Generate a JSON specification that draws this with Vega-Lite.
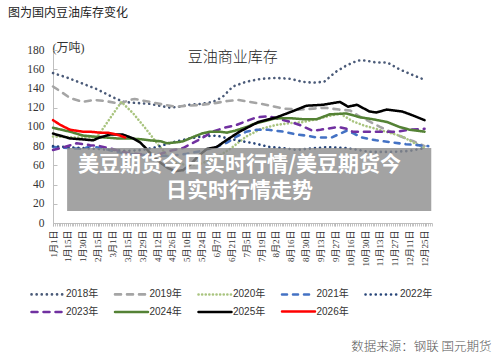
{
"$schema":"https://vega.github.io/schema/vega-lite/v6.json",
"width":379,"height":173,
"autosize":{"type":"none"},
"padding":{"left":53,"top":50,"right":68,"bottom":136},
"background":"white",
"config":{"view":{"stroke":null},"font":"'Liberation Sans','Noto Sans CJK SC',sans-serif"},
"title":{"text":"图为国内豆油库存变化","anchor":"start","frame":"group","dx":-45,"offset":16,"baseline":"middle","font":"'Noto Sans CJK SC'","fontSize":12,"fontWeight":"normal","color":"#222"},
"resolve":{"axis":{"x":"independent","y":"independent"}},
"layer":[
{"data":{"values":[
{"s":"2018年","x":0,"v":156},{"s":"2018年","x":2,"v":151},{"s":"2018年","x":4,"v":145},{"s":"2018年","x":6,"v":139},{"s":"2018年","x":8,"v":131},{"s":"2018年","x":9.5,"v":126},{"s":"2018年","x":11,"v":125},{"s":"2018年","x":13,"v":124},{"s":"2018年","x":15.7,"v":120},{"s":"2018年","x":17,"v":121},{"s":"2018年","x":18.4,"v":123},{"s":"2018年","x":20,"v":124},{"s":"2018年","x":21.5,"v":126},{"s":"2018年","x":22.8,"v":131},{"s":"2018年","x":24.2,"v":142},{"s":"2018年","x":26,"v":147},{"s":"2018年","x":28,"v":150},{"s":"2018年","x":30,"v":151},{"s":"2018年","x":32,"v":150},{"s":"2018年","x":33.5,"v":147},{"s":"2018年","x":35,"v":146},{"s":"2018年","x":36.5,"v":147},{"s":"2018年","x":38,"v":157},{"s":"2018年","x":39.5,"v":164},{"s":"2018年","x":41,"v":169},{"s":"2018年","x":42,"v":169},{"s":"2018年","x":43.5,"v":167},{"s":"2018年","x":45,"v":167},{"s":"2018年","x":46.6,"v":160},{"s":"2018年","x":48.4,"v":154},{"s":"2018年","x":50,"v":149},
{"s":"2019年","x":0,"v":142},{"s":"2019年","x":1,"v":137},{"s":"2019年","x":2.3,"v":130},{"s":"2019年","x":4,"v":126},{"s":"2019年","x":5.5,"v":128},{"s":"2019年","x":7,"v":127},{"s":"2019年","x":9,"v":124},{"s":"2019年","x":10.3,"v":128},{"s":"2019年","x":11,"v":129},{"s":"2019年","x":13,"v":126},{"s":"2019年","x":15,"v":123},{"s":"2019年","x":16.5,"v":121},{"s":"2019年","x":18,"v":122},{"s":"2019年","x":20,"v":123},{"s":"2019年","x":22,"v":125},{"s":"2019年","x":23.5,"v":127},{"s":"2019年","x":25,"v":128},{"s":"2019年","x":26.5,"v":126},{"s":"2019年","x":28,"v":124},{"s":"2019年","x":29.2,"v":122},{"s":"2019年","x":31,"v":119},{"s":"2019年","x":33,"v":118},{"s":"2019年","x":35,"v":119},{"s":"2019年","x":36.5,"v":120},{"s":"2019年","x":38.5,"v":118},{"s":"2019年","x":40,"v":117},{"s":"2019年","x":41,"v":112},{"s":"2019年","x":42.5,"v":106},{"s":"2019年","x":44,"v":100},{"s":"2019年","x":46.5,"v":91},{"s":"2019年","x":48.5,"v":85},{"s":"2019年","x":50,"v":80},
{"s":"2020年","x":0,"v":90},{"s":"2020年","x":3,"v":89},{"s":"2020年","x":5.9,"v":89},{"s":"2020年","x":9.2,"v":126},{"s":"2020年","x":10.8,"v":114},{"s":"2020年","x":12.6,"v":97},{"s":"2020年","x":14,"v":83},{"s":"2020年","x":15.3,"v":71},{"s":"2020年","x":16.5,"v":63},{"s":"2020年","x":18,"v":60},{"s":"2020年","x":20,"v":62},{"s":"2020年","x":22,"v":68},{"s":"2020年","x":24,"v":78},{"s":"2020年","x":26,"v":90},{"s":"2020年","x":28,"v":98},{"s":"2020年","x":30,"v":102},{"s":"2020年","x":32,"v":104},{"s":"2020年","x":33.6,"v":105},{"s":"2020年","x":35.5,"v":108},{"s":"2020年","x":37,"v":111},{"s":"2020年","x":38.6,"v":114},{"s":"2020年","x":40.3,"v":106},{"s":"2020年","x":42,"v":101},{"s":"2020年","x":43,"v":99},{"s":"2020年","x":45.7,"v":93},{"s":"2020年","x":47,"v":90},{"s":"2020年","x":48.4,"v":84},{"s":"2020年","x":50,"v":78},
{"s":"2021年","x":0,"v":79},{"s":"2021年","x":2,"v":78},{"s":"2021年","x":4,"v":77},{"s":"2021年","x":5,"v":80},{"s":"2021年","x":6.5,"v":78},{"s":"2021年","x":8.6,"v":74},{"s":"2021年","x":10,"v":72},{"s":"2021年","x":12,"v":71},{"s":"2021年","x":14,"v":70},{"s":"2021年","x":16,"v":70},{"s":"2021年","x":18,"v":72},{"s":"2021年","x":20,"v":75},{"s":"2021年","x":22,"v":79},{"s":"2021年","x":23.5,"v":84},{"s":"2021年","x":24.7,"v":90},{"s":"2021年","x":26,"v":95},{"s":"2021年","x":27.4,"v":97},{"s":"2021年","x":29,"v":97},{"s":"2021年","x":31,"v":95},{"s":"2021年","x":32.8,"v":92},{"s":"2021年","x":34,"v":91},{"s":"2021年","x":35.5,"v":89},{"s":"2021年","x":37.5,"v":89},{"s":"2021年","x":39.5,"v":96},{"s":"2021年","x":40.5,"v":93},{"s":"2021年","x":41.5,"v":89},{"s":"2021年","x":43.5,"v":86},{"s":"2021年","x":45.5,"v":84},{"s":"2021年","x":47.5,"v":82},{"s":"2021年","x":49,"v":81},{"s":"2021年","x":50.5,"v":80},
{"s":"2022年","x":0,"v":80},{"s":"2022年","x":2,"v":79},{"s":"2022年","x":4,"v":78},{"s":"2022年","x":6,"v":77},{"s":"2022年","x":8,"v":76},{"s":"2022年","x":10,"v":75},{"s":"2022年","x":12,"v":76},{"s":"2022年","x":14,"v":79},{"s":"2022年","x":16.1,"v":84},{"s":"2022年","x":18.4,"v":88},{"s":"2022年","x":20,"v":90},{"s":"2022年","x":22,"v":91},{"s":"2022年","x":23.5,"v":88},{"s":"2022年","x":25.5,"v":85},{"s":"2022年","x":27,"v":83},{"s":"2022年","x":29.2,"v":79},{"s":"2022年","x":31,"v":78},{"s":"2022年","x":32.8,"v":76},{"s":"2022年","x":34,"v":77},{"s":"2022年","x":36.8,"v":79},{"s":"2022年","x":39.5,"v":78},{"s":"2022年","x":42.6,"v":74},{"s":"2022年","x":45.7,"v":74},{"s":"2022年","x":48,"v":75},{"s":"2022年","x":50,"v":78},
{"s":"2023年","x":0,"v":76},{"s":"2023年","x":1.5,"v":79},{"s":"2023年","x":3.2,"v":83},{"s":"2023年","x":5,"v":81},{"s":"2023年","x":6.3,"v":80},{"s":"2023年","x":8,"v":77},{"s":"2023年","x":9.4,"v":74},{"s":"2023年","x":11,"v":72},{"s":"2023年","x":13,"v":71},{"s":"2023年","x":14.5,"v":72},{"s":"2023年","x":15.7,"v":75},{"s":"2023年","x":17.5,"v":78},{"s":"2023年","x":19.5,"v":86},{"s":"2023年","x":21.5,"v":95},{"s":"2023年","x":23,"v":99},{"s":"2023年","x":24.7,"v":102},{"s":"2023年","x":26,"v":106},{"s":"2023年","x":27.4,"v":110},{"s":"2023年","x":29,"v":111},{"s":"2023年","x":30.5,"v":108},{"s":"2023年","x":32,"v":105},{"s":"2023年","x":33.2,"v":102},{"s":"2023年","x":34.9,"v":96},{"s":"2023年","x":36,"v":97},{"s":"2023年","x":38.4,"v":100},{"s":"2023年","x":39.5,"v":98},{"s":"2023年","x":40.3,"v":95},{"s":"2023年","x":43,"v":95},{"s":"2023年","x":46.2,"v":95},{"s":"2023年","x":48,"v":97},{"s":"2023年","x":50,"v":98},
{"s":"2024年","x":0,"v":99},{"s":"2024年","x":2.3,"v":95},{"s":"2024年","x":4,"v":91},{"s":"2024年","x":5.4,"v":90},{"s":"2024年","x":7,"v":89},{"s":"2024年","x":8.6,"v":88},{"s":"2024年","x":10.3,"v":88},{"s":"2024年","x":12,"v":87},{"s":"2024年","x":13,"v":86},{"s":"2024年","x":14.5,"v":85},{"s":"2024年","x":15.3,"v":83},{"s":"2024年","x":16.7,"v":84},{"s":"2024年","x":17.5,"v":85},{"s":"2024年","x":18.4,"v":88},{"s":"2024年","x":20,"v":93},{"s":"2024年","x":21.1,"v":95},{"s":"2024年","x":22.4,"v":95},{"s":"2024年","x":23.4,"v":94},{"s":"2024年","x":24.5,"v":96},{"s":"2024年","x":26.1,"v":100},{"s":"2024年","x":27,"v":103},{"s":"2024年","x":28.5,"v":106},{"s":"2024年","x":30,"v":109},{"s":"2024年","x":32,"v":109},{"s":"2024年","x":33.6,"v":108},{"s":"2024年","x":35.5,"v":108},{"s":"2024年","x":37.2,"v":113},{"s":"2024年","x":39.5,"v":114},{"s":"2024年","x":41.3,"v":110},{"s":"2024年","x":43,"v":108},{"s":"2024年","x":45,"v":105},{"s":"2024年","x":46.6,"v":100},{"s":"2024年","x":48,"v":97},{"s":"2024年","x":50,"v":95},
{"s":"2025年","x":0,"v":93},{"s":"2025年","x":2.3,"v":88},{"s":"2025年","x":4,"v":87},{"s":"2025年","x":5.4,"v":86},{"s":"2025年","x":6.3,"v":89},{"s":"2025年","x":7.7,"v":92},{"s":"2025年","x":9.4,"v":92},{"s":"2025年","x":10.8,"v":88},{"s":"2025年","x":11.7,"v":84},{"s":"2025年","x":12.6,"v":77},{"s":"2025年","x":13.4,"v":70},{"s":"2025年","x":14.4,"v":63},{"s":"2025年","x":15.5,"v":57},{"s":"2025年","x":16.5,"v":54},{"s":"2025年","x":17.5,"v":55},{"s":"2025年","x":18.5,"v":61},{"s":"2025年","x":19.6,"v":70},{"s":"2025年","x":20.7,"v":77},{"s":"2025年","x":22,"v":79},{"s":"2025年","x":23.5,"v":87},{"s":"2025年","x":25.1,"v":95},{"s":"2025年","x":27.6,"v":105},{"s":"2025年","x":30.1,"v":110},{"s":"2025年","x":32.5,"v":117},{"s":"2025年","x":34.1,"v":122},{"s":"2025年","x":36.3,"v":123},{"s":"2025年","x":38.6,"v":126},{"s":"2025年","x":39.7,"v":121},{"s":"2025年","x":40.9,"v":123},{"s":"2025年","x":42.6,"v":116},{"s":"2025年","x":43.5,"v":115},{"s":"2025年","x":44.9,"v":118},{"s":"2025年","x":47,"v":116},{"s":"2025年","x":48.4,"v":112},{"s":"2025年","x":50,"v":107},
{"s":"2026年","x":0,"v":107},{"s":"2026年","x":1,"v":102},{"s":"2026年","x":2.3,"v":97},{"s":"2026年","x":4,"v":95},{"s":"2026年","x":5,"v":95},{"s":"2026年","x":6.3,"v":94},{"s":"2026年","x":7.3,"v":94},{"s":"2026年","x":8,"v":93},{"s":"2026年","x":9,"v":91},{"s":"2026年","x":9.7,"v":89}
]},
"mark":{"type":"line","strokeCap":"round","strokeJoin":"round"},
"encoding":{
"x":{"field":"x","type":"quantitative","scale":{"domain":[0,51],"nice":false,"zero":false},
"axis":{"orient":"bottom","values":[0,2,4,6,8,10,12,14,16,18,20,22,24,26,28,30,32,34,36,38,40,42,44,46,48,50],
"labelExpr":"['1月1日','1月15日','1月30日','2月15日','3月1日','3月15日','3月29日','4月12日','4月26日','5月10日','5月24日','6月7日','6月21日','7月5日','7月19日','8月2日','8月16日','8月30日','9月13日','9月27日','10月16日','10月30日','11月13日','11月27日','12月11日','12月25日'][round(datum.value / 2)]",
"labelAngle":-90,"labelFont":"'Liberation Serif','Noto Sans CJK SC',serif","labelFontSize":9,"labelColor":"#333","labelPadding":4,"labelOverlap":false,"labelFlush":false,"labelBound":false,
"tickSize":3,"tickColor":"#b5b5b5","tickWidth":0.8,"domainColor":"#bfbfbf","grid":false,"title":null}},
"y":{"field":"v","type":"quantitative","scale":{"domain":[0,180],"nice":false},
"axis":{"orient":"left","tickCount":9,"labelOverlap":false,"labelFlush":false,"title":"(万吨)","titleAngle":0,"titleAlign":"left","titleBaseline":"middle","titleX":-1,"titleY":-3,"titleFont":"'Liberation Serif','Noto Sans CJK SC',serif","titleFontSize":12,"titleFontWeight":"normal","titleColor":"#333",
"labelFont":"Liberation Serif","labelFontSize":11.5,"labelColor":"#333","labelPadding":9,"tickSize":0,"domainColor":"#bfbfbf","grid":false}},
"color":{"field":"s","type":"nominal","scale":{"domain":["2018年","2019年","2020年","2021年","2022年","2023年","2024年","2025年","2026年"],"range":["#4a5a78","#a5a5a5","#a9c47f","#4472c4","#264478","#7030a0","#548235","#000000","#ff0000"]},
"legend":{"title":null,"orient":"none","legendX":-15,"legendY":234,"direction":"horizontal","columns":5,"symbolType":"M-2,0H2","symbolSize":272,"symbolStrokeWidth":2.5,"labelFont":"'Liberation Sans','Noto Sans CJK SC',sans-serif","labelFontSize":10,"labelColor":"#333","labelOffset":8,"columnPadding":10.5,"rowPadding":2,"encode":{"symbols":{"update":{"strokeCap":{"value":"round"},"fill":{"value":"transparent"}}}}}},
"strokeDash":{"field":"s","type":"nominal","scale":{"domain":["2018年","2019年","2020年","2021年","2022年","2023年","2024年","2025年","2026年"],"range":[[0.1,5],[6,6],[0.1,3.5],[5,6],[0.1,5],[6,6],[1,0],[1,0],[1,0]]}},
"strokeWidth":{"field":"s","type":"ordinal","scale":{"domain":["2018年","2019年","2020年","2021年","2022年","2023年","2024年","2025年","2026年"],"range":[2.6,2.5,1.6,2.2,2.6,2.6,2,2,2.5]},"legend":null}
}},
{"data":{"values":[{}]},"mark":{"type":"rect","fill":"#8c8c8c","opacity":0.8},
"encoding":{"x":{"datum":1.9,"type":"quantitative","axis":{"orient":"bottom","values":[0,0.25,0.5,0.75,1,1.25,1.5,1.75,2,2.25,2.5,2.75,3,3.25,3.5,3.75,4,4.25,4.5,4.75,5,5.25,5.5,5.75,6,6.25,6.5,6.75,7,7.25,7.5,7.75,8,8.25,8.5,8.75,9,9.25,9.5,9.75,10,10.25,10.5,10.75,11,11.25,11.5,11.75,12,12.25,12.5,12.75,13,13.25,13.5,13.75,14,14.25,14.5,14.75,15,15.25,15.5,15.75,16,16.25,16.5,16.75,17,17.25,17.5,17.75,18,18.25,18.5,18.75,19,19.25,19.5,19.75,20,20.25,20.5,20.75,21,21.25,21.5,21.75,22,22.25,22.5,22.75,23,23.25,23.5,23.75,24,24.25,24.5,24.75,25,25.25,25.5,25.75,26,26.25,26.5,26.75,27,27.25,27.5,27.75,28,28.25,28.5,28.75,29,29.25,29.5,29.75,30,30.25,30.5,30.75,31,31.25,31.5,31.75,32,32.25,32.5,32.75,33,33.25,33.5,33.75,34,34.25,34.5,34.75,35,35.25,35.5,35.75,36,36.25,36.5,36.75,37,37.25,37.5,37.75,38,38.25,38.5,38.75,39,39.25,39.5,39.75,40,40.25,40.5,40.75,41,41.25,41.5,41.75,42,42.25,42.5,42.75,43,43.25,43.5,43.75,44,44.25,44.5,44.75,45,45.25,45.5,45.75,46,46.25,46.5,46.75,47,47.25,47.5,47.75,48,48.25,48.5,48.75,49,49.25,49.5,49.75,50,50.25,50.5,50.75,51],"labels":false,"domain":false,"grid":false,"title":null,"tickSize":3,"tickColor":"#b5b5b5","tickWidth":0.8}},"x2":{"datum":50.9},"y":{"datum":12.5,"type":"quantitative","axis":{"orient":"left","values":[0,20,40,60,80,100,120,140,160,180],"labels":false,"domain":false,"grid":false,"title":null,"tickSize":-4,"tickColor":"#bfbfbf"}},"y2":{"datum":78}}},
{"data":{"values":[{}]},"mark":{"type":"text","text":["美豆期货今日实时行情/美豆期货今","日实时行情走势"],"lineHeight":26,"font":"'Noto Sans CJK SC'","fontSize":21,"fontWeight":"bold","fill":"white","align":"center","baseline":"middle"},
"encoding":{"x":{"datum":25.1,"type":"quantitative","axis":null},"y":{"datum":60.4,"type":"quantitative","axis":null}}},
{"data":{"values":[{}]},"mark":{"type":"text","text":"豆油商业库存","font":"'Noto Sans CJK SC'","fontSize":15,"fontWeight":300,"fill":"#222","align":"center","baseline":"middle"},
"encoding":{"x":{"datum":24.2,"type":"quantitative","axis":null},"y":{"datum":172.7,"type":"quantitative","axis":null}}},
{"data":{"values":[{}]},"mark":{"type":"text","text":"数据来源：钢联 国元期货","font":"'Noto Sans CJK SC'","fontSize":12.5,"fontWeight":300,"fill":"#555","align":"right","baseline":"middle"},
"encoding":{"x":{"datum":59,"type":"quantitative","axis":null},"y":{"datum":-129,"type":"quantitative","axis":null}}}
]
}
